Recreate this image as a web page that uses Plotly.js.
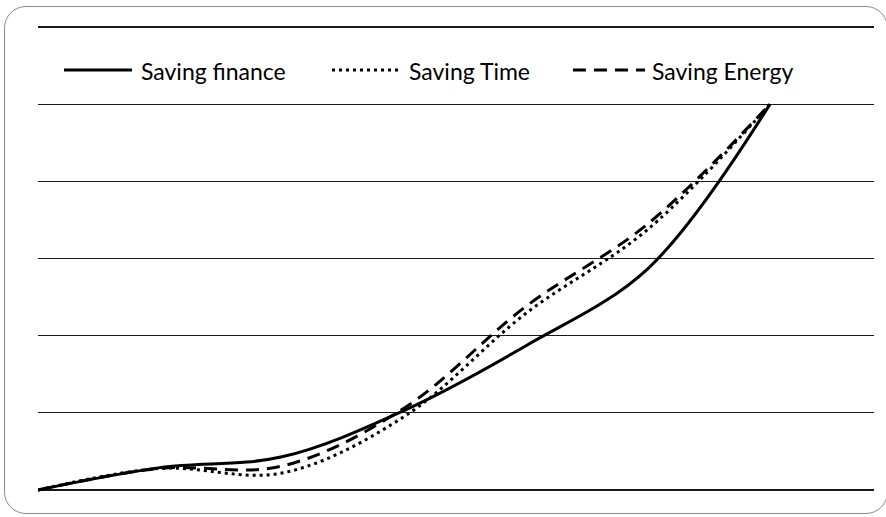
<!DOCTYPE html>
<html>
<head>
<meta charset="utf-8">
<script src="https://cdn.plot.ly/plotly-3.0.1.min.js"></script>
<style>
  html, body { margin: 0; padding: 0; background: #ffffff; }
  #wrap { position: relative; width: 886px; height: 517px; overflow: hidden; }
  #chart { position: absolute; left: 0; top: 0; width: 886px; height: 517px; }
  #frame { position: absolute; left: 4px; top: 6px; width: 884px; height: 508px;
           border: 1px solid #8a8a8a; border-radius: 22px; pointer-events: none; box-sizing: border-box; }
</style>
</head>
<body>
<div id="wrap">
  <div id="chart"></div>
  <div id="frame"></div>
</div>
<script>
// Data
const steps = [0, 1, 2, 3, 4, 5, 6];
const savingFinance = [0, 0.29, 0.43, 1.03, 1.87, 2.87, 5.0];
const savingTime    = [0, 0.28, 0.22, 0.95, 2.29, 3.38, 5.0];
const savingEnergy  = [0, 0.28, 0.31, 1.06, 2.38, 3.45, 5.0];
const seriesNames = ['Saving finance', 'Saving Time', 'Saving Energy'];

const FONT = 'Lato, "Open Sans", sans-serif';

const traces = [
  { x: steps, y: savingFinance, name: seriesNames[0], mode: 'lines',
    line: { color: '#000000', width: 3, shape: 'spline', smoothing: 1 } },
  { x: steps, y: savingTime, name: seriesNames[1], mode: 'lines',
    line: { color: '#000000', width: 3, shape: 'spline', smoothing: 1, dash: '3px,4px' } },
  { x: steps, y: savingEnergy, name: seriesNames[2], mode: 'lines',
    line: { color: '#000000', width: 3, shape: 'spline', smoothing: 1, dash: '13px,8px' } }
];

// plot area in pixels (layout only)
const L = 38, R = 874, T = 25, B = 492;
const yPad = (6 / 463) * 2; // ~2px of padding so the top gridline is drawn
const px = v => (v - L) / (R - L);
const py = v => (B - v) / (B - T);
const legendY = 70;
const legendItems = [
  { x0: 64, x1: 132, tx: 139, dash: 'solid' },
  { x0: 332, x1: 401, tx: 407, dash: '3px,4px' },
  { x0: 573, x1: 645, tx: 650, dash: '13px,8px' }
];

const shapes = legendItems.map(it => ({
  type: 'line', xref: 'paper', yref: 'paper',
  x0: px(it.x0), x1: px(it.x1), y0: py(legendY), y1: py(legendY),
  line: { color: '#000000', width: 3, dash: it.dash }
}));
const annotations = legendItems.map((it, i) => ({
  xref: 'paper', yref: 'paper', x: px(it.tx), y: py(legendY + 1),
  xanchor: 'left', yanchor: 'middle', showarrow: false,
  text: seriesNames[i], font: { family: FONT, size: 23, color: '#000000' }
}));

const layout = {
  width: 886, height: 517,
  margin: { l: L, r: 886 - R, t: T, b: 517 - B, pad: 0 },
  paper_bgcolor: 'rgba(0,0,0,0)',
  plot_bgcolor: '#ffffff',
  showlegend: false,
  xaxis: { range: [0, 836 / 122], showgrid: false, zeroline: false, showline: false,
           showticklabels: false, ticks: '', fixedrange: true },
  yaxis: { range: [-yPad, 6 + yPad], dtick: 1, tick0: 0, showgrid: true, gridcolor: '#1a1a1a', gridwidth: 1.3,
           zeroline: true, zerolinecolor: '#1a1a1a', zerolinewidth: 1.3,
           showline: false, showticklabels: false, ticks: '', fixedrange: true },
  shapes: shapes,
  annotations: annotations,
  font: { family: FONT }
};

Plotly.newPlot('chart', traces, layout, { displayModeBar: false, staticPlot: true });
</script>
</body>
</html>
